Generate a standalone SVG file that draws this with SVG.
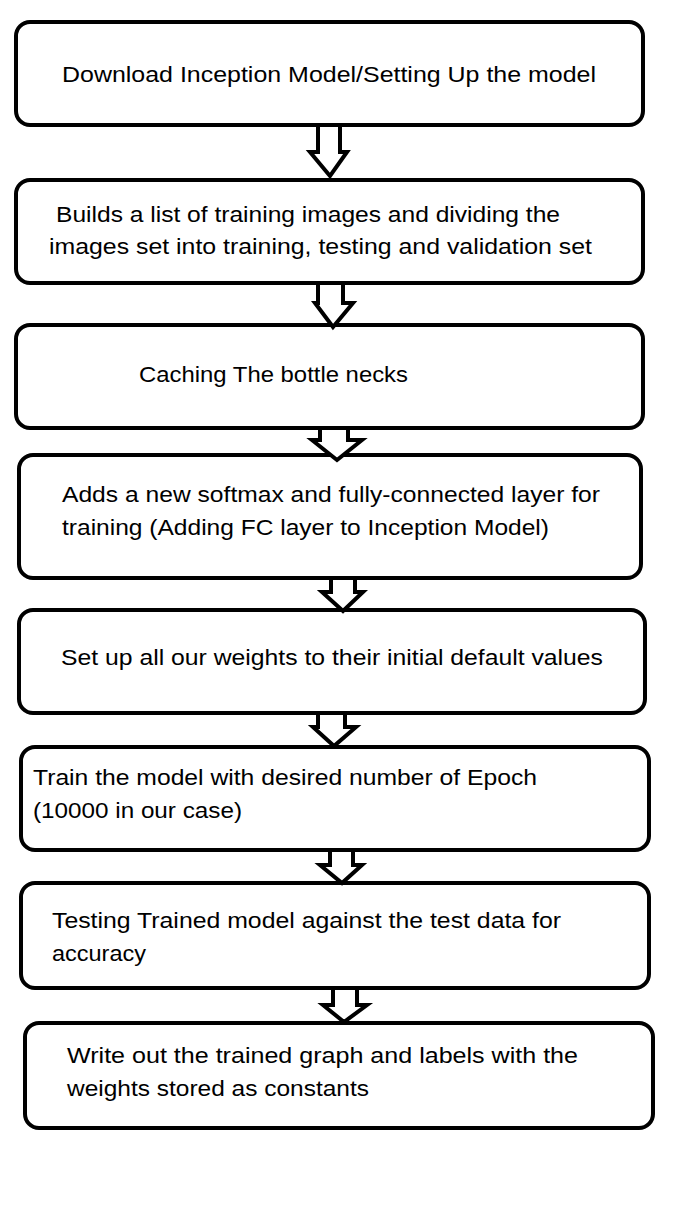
<svg xmlns="http://www.w3.org/2000/svg" width="680" height="1210" viewBox="0 0 680 1210">
<style>
.box{fill:#fff;stroke:#000;stroke-width:4}
.arr{fill:#fff;stroke:#000;stroke-width:4;stroke-linejoin:miter}
text{font-family:"Liberation Sans",Arial,sans-serif;font-size:22px;fill:#000}
</style>
<rect width="680" height="1210" fill="#fff"/>
<g id="n1"><rect class="box" x="16" y="22" width="627" height="103" rx="14"/>
<text x="62" y="82" textLength="534" lengthAdjust="spacingAndGlyphs">Download Inception Model/Setting Up the model</text></g>
<g id="n2"><rect class="box" x="16" y="180" width="627" height="103" rx="14"/>
<text x="56" y="222" textLength="504" lengthAdjust="spacingAndGlyphs">Builds a list of training images and dividing the</text>
<text x="49" y="254" textLength="543" lengthAdjust="spacingAndGlyphs">images set into training, testing and validation set</text></g>
<g id="n3"><rect class="box" x="16" y="325" width="627" height="103" rx="14"/>
<text x="139" y="382" textLength="269" lengthAdjust="spacingAndGlyphs">Caching The bottle necks</text></g>
<g id="n4"><rect class="box" x="19" y="455" width="622" height="123" rx="14"/>
<text x="62" y="502" textLength="538" lengthAdjust="spacingAndGlyphs">Adds a new softmax and fully-connected layer for</text>
<text x="62" y="535" textLength="487" lengthAdjust="spacingAndGlyphs">training (Adding FC layer to Inception Model)</text></g>
<g id="n5"><rect class="box" x="19" y="610" width="626" height="103" rx="14"/>
<text x="61" y="665" textLength="542" lengthAdjust="spacingAndGlyphs">Set up all our weights to their initial default values</text></g>
<g id="n6"><rect class="box" x="21" y="747" width="628" height="103" rx="14"/>
<text x="33" y="785" textLength="504" lengthAdjust="spacingAndGlyphs">Train the model with desired number of Epoch</text>
<text x="33" y="818" textLength="209" lengthAdjust="spacingAndGlyphs">(10000 in our case)</text></g>
<g id="n7"><rect class="box" x="21" y="883" width="628" height="105" rx="14"/>
<text x="52" y="928" textLength="509" lengthAdjust="spacingAndGlyphs">Testing Trained model against the test data for</text>
<text x="52" y="961" textLength="94" lengthAdjust="spacingAndGlyphs">accuracy</text></g>
<g id="n8"><rect class="box" x="25" y="1023" width="628" height="105" rx="14"/>
<text x="67" y="1063" textLength="511" lengthAdjust="spacingAndGlyphs">Write out the trained graph and labels with the</text>
<text x="67" y="1096" textLength="302" lengthAdjust="spacingAndGlyphs">weights stored as constants</text></g>
<g id="connectors">
<polygon class="arr" points="318,125 340,125 340,152 347,152 330,176 310,152 318,152"/>
<polygon class="arr" points="318,283 343,283 343,303 353,303 333,327 315,303 318,303"/>
<polygon class="arr" points="320,428 348,428 348,440 362,440 337,460 312,440 320,440"/>
<polygon class="arr" points="331,578 355,578 355,592 363,592 343,611 322,592 331,592"/>
<polygon class="arr" points="318,713 345,713 345,727 356,727 334,746 313,727 318,727"/>
<polygon class="arr" points="330,850 353,850 353,865 362,865 342,883 320,865 330,865"/>
<polygon class="arr" points="333,988 357,988 357,1005 367,1005 344,1022 323,1005 333,1005"/>
</g>
</svg>
